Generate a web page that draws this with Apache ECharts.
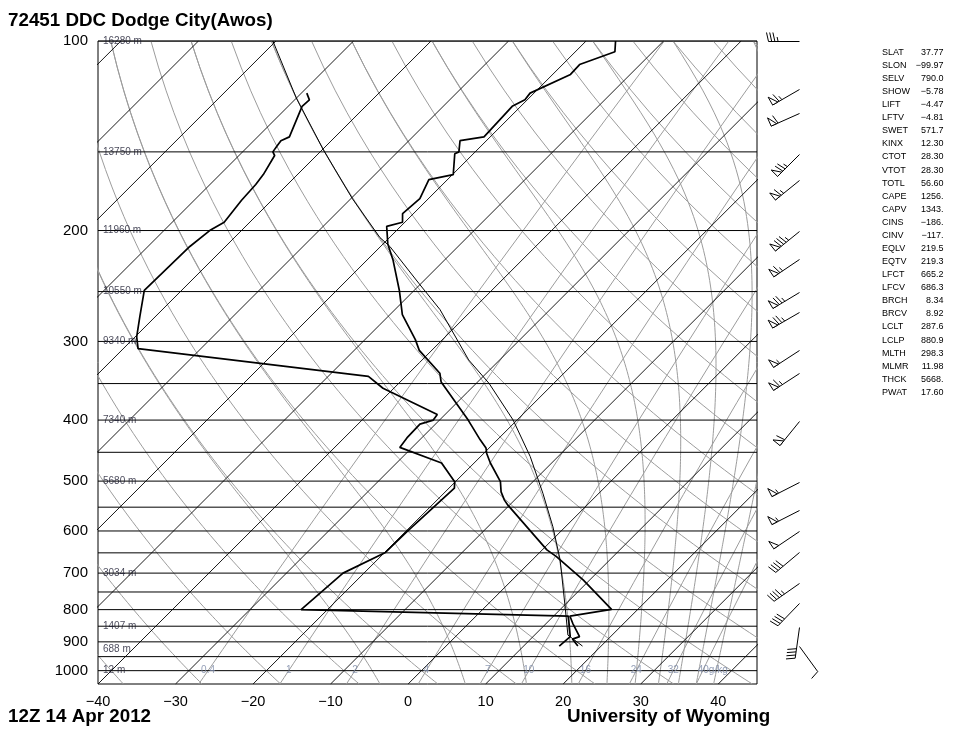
<!DOCTYPE html>
<html>
<head>
<meta charset="utf-8">
<script src="https://cdn.jsdelivr.net/npm/echarts@6/dist/echarts.min.js"></script>
<style>
html,body{margin:0;padding:0;background:#fff}
#main{width:964px;height:744px}
</style>
</head>
<body>
<div id="main"></div>
<script>
/* sounding: pressure (hPa) and temperature (C) */
var tempP = [914, 891, 883, 841, 819, 799, 718, 659, 643, 546, 536, 520, 501, 468, 452, 443, 430, 400, 348, 337, 310, 298, 272, 249, 223, 210, 197, 194, 188, 178, 166, 163, 151, 150, 144, 142, 127, 124, 121, 113, 109, 104, 100];
var tempT = [17.0, 15.4, 16.0, 13.4, 12.1, 16.6, 9.2, 2.7, 0.6, -10.2, -11.3, -12.8, -14.2, -17.9, -19.6, -20.4, -22.2, -26.3, -34.7, -36.0, -41.6, -43.5, -48.4, -51.9, -56.6, -59.4, -61.8, -60.3, -61.4, -61.1, -62.4, -59.9, -62.4, -62.1, -63.4, -60.8, -61.1, -60.3, -60.5, -57.7, -57.8, -54.9, -56.2];
var dewP = [914, 883, 819, 800, 700, 649, 601, 513, 501, 468, 442, 427, 406, 400, 392, 356, 341, 308, 295, 274, 249, 212, 200, 194, 179, 169, 163, 152, 150, 147, 144, 142, 127, 124, 121];
var dewT = [14.6, 14.8, 11.9, -23.4, -22.7, -19.9, -19.8, -19.3, -20.1, -24.2, -31.6, -31.9, -32.0, -30.8, -31.0, -41.4, -44.8, -78.1, -79.8, -82.0, -84.8, -84.6, -84.1, -83.3, -83.9, -84.1, -84.4, -85.4, -86.1, -86.3, -86.5, -85.9, -88.2, -88.1, -89.3];
var parcelP = [914, 878, 796, 667, 591, 523, 457, 400, 350, 321, 267, 243, 212, 205, 178, 149, 123, 100];
var parcelT = [17.6, 14.3, 10.5, 3.6, -1.6, -7.2, -13.6, -20.5, -28.3, -34.0, -44.2, -50.2, -58.8, -61.3, -69.8, -79.8, -90.1, -100.4];

/* winds: pressure, direction (deg), speed (knots) */
var windP = [100, 119, 130, 151, 166, 200, 222, 250, 269, 309, 337, 402, 501, 556, 600, 649, 727, 781, 851, 914];
var windDir = [270, 240, 246, 225, 231, 231, 236, 239, 240, 237, 237, 219, 243, 243, 236, 230, 235, 224, 188, 144];
var windSpd = [35, 65, 60, 75, 65, 85, 65, 75, 75, 55, 65, 60, 55, 55, 50, 40, 45, 40, 40, 10];

/* axes and diagram lines */
var pressureTicks = [100, 200, 300, 400, 500, 600, 700, 800, 900, 1000];
var tempTicks = [-40, -30, -20, -10, 0, 10, 20, 30, 40];
var isobars = [100, 150, 200, 250, 300, 350, 400, 450, 500, 550, 600, 650, 700, 750, 800, 850, 900, 950, 1000];
var heightP = [100, 150, 200, 250, 300, 400, 500, 700, 850, 925, 1000];
var heightLabels = ['16280 m', '13750 m', '11960 m', '10550 m', '9340 m', '7340 m', '5680 m', '3034 m', '1407 m', '688 m', '12 m'];
var isotherms = [-120, -110, -100, -90, -80, -70, -60, -50, -40, -30, -20, -10, 0, 10, 20, 30, 40];
var dryAdiabats = [-40, -30, -20, -10, 0, 10, 20, 30, 40, 50, 60, 70, 80, 90, 100, 110, 120, 130, 140, 150, 160, 170, 180];
var moistAdiabats = [0, 20, 40, 60, 80, 100, 120, 140, 160, 180];
var mixingRatios = [0.4, 1, 2, 4, 7, 10, 16, 24, 32, 40];
var mixingLabels = ['0.4', '1', '2', '4', '7', '10', '16', '24', '32', '40g/kg'];

/* station indices */
var statNames = ['SLAT', 'SLON', 'SELV', 'SHOW', 'LIFT', 'LFTV', 'SWET', 'KINX', 'CTOT', 'VTOT', 'TOTL', 'CAPE', 'CAPV', 'CINS', 'CINV', 'EQLV', 'EQTV', 'LFCT', 'LFCV', 'BRCH', 'BRCV', 'LCLT', 'LCLP', 'MLTH', 'MLMR', 'THCK', 'PWAT'];
var statValues = ['37.77', '\u221299.97', '790.0', '\u22125.78', '\u22124.47', '\u22124.81', '571.7', '12.30', '28.30', '28.30', '56.60', '1256.', '1343.', '\u2212186.', '\u2212117.', '219.5', '219.3', '665.2', '686.3', '8.34', '8.92', '287.6', '880.9', '298.3', '11.98', '5668.', '17.60'];

var SKEW = 35.28, PBOT = 1050, PTOP = 100;
var FONT = 'Liberation Sans, Arial, sans-serif';
var GREY = '#9c9c9c';

function skewX(t, p) { return t + SKEW * Math.log(PBOT / p); }
function pt(t, p) { return [skewX(t, p), Math.log(p)]; }
function dryT(th, p) { return (th + 273.15) * Math.pow(p / 1000, 0.2857) - 273.15; }

function satVap(tc) { return 6.112 * Math.exp(17.67 * tc / (tc + 243.5)); }
function moistLapse(p, tk) {
    var es = satVap(tk - 273.15), rs = 0.622 * es / (p - es);
    var Rd = 287.04, Cp = 1005.7, Lv = 2.501e6;
    return (Rd * tk + Lv * rs) / (p * (Cp + Lv * Lv * rs * 0.622 / (Rd * tk * tk)));
}
function rk4(p, t, h) {
    var k1 = moistLapse(p, t), k2 = moistLapse(p + h / 2, t + h / 2 * k1);
    var k3 = moistLapse(p + h / 2, t + h / 2 * k2), k4 = moistLapse(p + h, t + h * k3);
    return t + h / 6 * (k1 + 2 * k2 + 2 * k3 + k4);
}
/* saturated adiabat leaving the top of the chart on a dry adiabat */
function moistLine(th) {
    var pts = [], p = PTOP, t = dryT(th, PTOP) + 273.15;
    while (p <= PBOT) {
        pts.push(pt(t - 273.15, p));
        if (t - 273.15 > 60) break;
        t = rk4(p, t, 5); p += 5;
    }
    return pts;
}
function dryLine(th) {
    var pts = [];
    for (var p = PBOT; p >= PTOP; p -= 10) pts.push(pt(dryT(th, p), p));
    return pts;
}
function mixT(w, p) {
    var l = Math.log(w * p / (622 + w) / 6.112);
    return 243.5 * l / (17.67 - l);
}
function mixLine(w) {
    var pts = [];
    for (var p = PBOT; p >= PTOP; p -= 25) pts.push(pt(mixT(w, p), p));
    return pts;
}

function lineSeries(data, color, width, z) {
    return { type: 'line', data: data, showSymbol: false, symbol: 'none', silent: true, clip: true, z: z,
        lineStyle: { color: color, width: width } };
}

var series = [];
dryAdiabats.forEach(function (th) { series.push(lineSeries(dryLine(th), GREY, 1, 1)); });
moistAdiabats.forEach(function (th) { series.push(lineSeries(moistLine(th), GREY, 1, 1)); });
mixingRatios.forEach(function (w) { series.push(lineSeries(mixLine(w), GREY, 1, 1)); });
isotherms.forEach(function (t) { series.push(lineSeries([pt(t, PBOT), pt(t, PTOP)], '#000', 0.9, 2)); });
isobars.forEach(function (p) { series.push(lineSeries([[-40, Math.log(p)], [45, Math.log(p)]], '#000', 1, 2)); });

series.push(lineSeries(parcelP.map(function (p, i) { return pt(parcelT[i], p); }), '#000', 1, 4));
series.push(lineSeries(dewP.map(function (p, i) { return pt(dewT[i], p); }), '#000', 1.7, 5));
series.push(lineSeries(tempP.map(function (p, i) { return pt(tempT[i], p); }), '#000', 1.7, 5));

/* height labels on isobars */
series.push({ type: 'scatter', symbolSize: 0, silent: true, z: 6,
    data: heightP.map(function (p, i) { return { value: [-40, Math.log(p)], name: heightLabels[i] }; }),
    label: { show: true, position: 'right', distance: 5, formatter: '{b}', fontSize: 10, color: '#1a1a30', fontFamily: FONT } });

/* mixing ratio labels at 1000 hPa */
series.push({ type: 'scatter', symbolSize: 0, silent: true, z: 6,
    data: mixingRatios.map(function (w, i) {
        var item = { value: pt(mixT(w, 1000), 1000), name: mixingLabels[i] };
        if (i === mixingRatios.length - 1) item.label = { offset: [10, 0] };
        return item;
    }),
    label: { show: true, position: 'inside', formatter: '{b}', fontSize: 10, color: '#7a88a6', fontFamily: FONT } });

/* wind barbs */
series.push({ type: 'custom', xAxisIndex: 1, yAxisIndex: 1, silent: true, z: 6, clip: false,
    data: windP.map(function (p, i) { return [0.5, Math.log(p), windDir[i], windSpd[i]]; }),
    renderItem: function (params, api) {
        var c = api.coord([api.value(0), api.value(1)]);
        c = [Math.round(c[0]) + 0.5, Math.round(c[1]) + 0.5];
        var a = api.value(2) * Math.PI / 180, spd = Math.round(api.value(3) / 5) * 5;
        var dx = Math.sin(a), dy = -Math.cos(a), nx = -dy, ny = dx;
        var L = 31, B = 9, gap = 3.2;
        function at(s, o) { return [c[0] + dx * s + nx * o, c[1] + dy * s + ny * o]; }
        var st = { stroke: '#000', lineWidth: 1, fill: null };
        var kids = [{ type: 'polyline', shape: { points: [c, at(L, 0)] }, style: st }];
        var s = L;
        while (spd >= 50) {
            kids.push({ type: 'polygon', shape: { points: [at(s, 0), at(s - 6, 0), at(s, B)] }, style: { stroke: '#000', lineWidth: 1, fill: '#fff' } });
            s -= 7.5; spd -= 50;
        }
        while (spd >= 10) {
            kids.push({ type: 'polyline', shape: { points: [at(s, 0), at(s + 2, B)] }, style: st });
            s -= gap; spd -= 10;
        }
        if (spd >= 5) {
            if (s === L) s -= gap;
            kids.push({ type: 'polyline', shape: { points: [at(s, 0), at(s + 1, B / 2)] }, style: st });
        }
        return { type: 'group', children: kids };
    } });

var graphics = [
    { type: 'text', x: 8, y: 21, style: { text: '72451 DDC Dodge City(Awos)', font: 'bold 18.8px ' + FONT, fill: '#000', verticalAlign: 'middle' } },
    { type: 'text', x: 8, y: 717, style: { text: '12Z 14 Apr 2012', font: 'bold 18.8px ' + FONT, fill: '#000', verticalAlign: 'middle' } },
    { type: 'text', x: 567, y: 717, style: { text: 'University of Wyoming', font: 'bold 18.8px ' + FONT, fill: '#000', verticalAlign: 'middle' } }
];
statNames.forEach(function (n, i) {
    var y = 52.3 + i * 13.08;
    graphics.push({ type: 'text', x: 882, y: y, style: { text: n, font: '9px ' + FONT, fill: '#000', verticalAlign: 'middle' } });
    graphics.push({ type: 'text', x: 943.5, y: y, style: { text: statValues[i], font: '9px ' + FONT, fill: '#000', align: 'right', verticalAlign: 'middle' } });
});

var chart = echarts.init(document.getElementById('main'));
chart.setOption({
    animation: false,
    backgroundColor: '#fff',
    textStyle: { fontFamily: FONT },
    grid: [
        { left: 98, top: 41, width: 659, height: 643, show: true, borderColor: '#000', borderWidth: 1, backgroundColor: 'transparent' },
        { left: 760, top: 41, width: 78, height: 643 }
    ],
    xAxis: [
        { type: 'value', gridIndex: 0, min: -40, max: 45, interval: 10,
          axisLine: { show: false }, axisTick: { show: false }, splitLine: { show: false },
          axisLabel: { customValues: tempTicks, margin: 10, fontSize: 14.5, color: '#000',
              formatter: function (v) { return v < 0 ? '\u2212' + (-v) : String(v); } } },
        { type: 'value', gridIndex: 1, min: 0, max: 1, show: false }
    ],
    yAxis: [
        { type: 'value', gridIndex: 0, min: Math.log(PTOP), max: Math.log(PBOT), inverse: true,
          axisLine: { show: false }, axisTick: { show: false }, splitLine: { show: false },
          axisLabel: { customValues: pressureTicks.map(Math.log), margin: 10, fontSize: 15, color: '#000',
              formatter: function (v) { return String(Math.round(Math.exp(v))); } } },
        { type: 'value', gridIndex: 1, min: Math.log(PTOP), max: Math.log(PBOT), inverse: true, show: false }
    ],
    graphic: graphics,
    series: series
});
</script>
</body>
</html>
